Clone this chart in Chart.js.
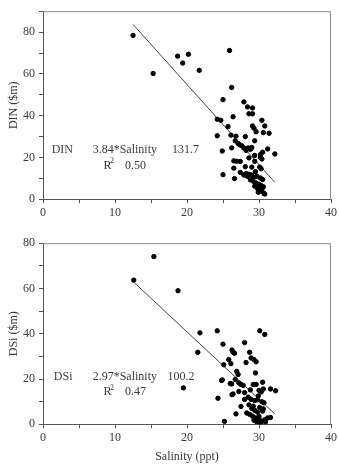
<!DOCTYPE html>
<html>
<head>
<meta charset="utf-8">
<script src="https://cdn.jsdelivr.net/npm/chart.js@4.4.0/dist/chart.umd.min.js"></script>
<style>
  body { margin: 0; background: #fff; }
  .box { position: absolute; left: 0; width: 339px; height: 232px; }
</style>
</head>
<body>
<div class="box" style="top:0"><canvas id="dinChart" width="339" height="232"></canvas></div>
<div class="box" style="top:232px"><canvas id="dsiChart" width="339" height="232"></canvas></div>
<script>
// salinity (ppt), DIN pairs
const dinPoints = [
  [12.5,78.4],[15.3,60.2],[18.7,68.5],[19.4,65.2],[20.2,69.4],[21.7,61.7],[25.9,71.2],
  [25.0,47.7],[26.2,53.5],[27.9,46.6],[28.4,44.2],[29.1,43.7],[28.6,40.9],[29.1,40.9],
  [24.2,38.3],[24.7,37.8],[26.4,39.5],[30.4,37.8],[25.7,34.8],[29.1,35.1],[29.3,34.0],
  [30.8,35.1],[29.6,32.3],[30.6,31.9],[31.4,31.6],[24.2,30.4],[26.1,30.7],[26.8,30.2],
  [28.1,30.0],[26.7,28.0],[29.4,28.0],[27.1,26.7],[27.3,26.1],[27.6,25.6],[27.9,24.6],
  [28.2,23.4],[24.9,23.1],[26.2,24.6],[28.5,24.6],[28.8,23.9],[29.0,24.8],[31.2,24.1],
  [32.2,21.7],[30.5,22.5],[30.2,21.4],[29.4,21.0],[28.6,19.8],[26.5,18.4],[26.9,18.2],
  [27.4,18.1],[29.4,18.2],[30.2,20.0],[30.4,19.3],[29.0,15.4],[30.1,15.4],[30.3,14.6],
  [28.1,15.6],[26.5,14.9],[25.0,11.8],[26.6,9.9],[27.4,12.9],[28.2,12.3],[28.6,12.0],
  [29.0,11.6],[29.3,10.6],[29.7,11.0],[30.2,10.2],[30.5,9.5],[28.8,9.3],[29.2,8.6],
  [29.6,7.8],[30.0,7.2],[30.3,6.6],[30.6,6.0],[29.4,6.3],[29.8,5.2],[30.1,4.5],[30.4,3.8],
  [30.7,2.8],[30.8,2.5],[29.9,3.4],[30.5,5.5],[28.4,11.0],[27.9,11.6],[29.5,13.2]
];
// salinity (ppt), DSi pairs
const dsiPoints = [
  [12.6,63.7],[15.4,74.1],[18.75,59.0],[19.5,16.1],[21.8,40.4],[21.5,31.8],[24.2,41.3],
  [25.0,35.4],[24.3,11.5],[24.9,19.6],[25.1,26.3],[25.2,1.3],[26.25,32.8],[26.4,31.8],
  [26.6,31.4],[25.8,28.6],[26.1,26.8],[26.25,13.1],[26.0,18.0],[26.8,4.6],[26.9,23.4],
  [27.1,22.0],[26.7,19.8],[27.2,18.3],[27.5,17.6],[27.8,17.2],[28.0,36.1],[28.2,27.3],
  [28.7,31.8],[28.9,29.3],[29.3,28.6],[29.6,27.6],[29.5,22.7],[29.2,17.6],[29.6,17.6],
  [30.1,41.3],[30.8,39.7],[30.5,18.6],[30.6,15.6],[31.6,15.6],[32.3,14.8],[30.0,15.0],
  [30.3,14.3],[28.0,14.0],[28.5,12.0],[28.9,11.0],[29.4,10.5],[29.8,10.8],[30.4,10.0],
  [30.7,9.5],[27.5,7.9],[28.3,5.0],[28.7,4.4],[29.1,3.6],[29.5,2.8],[30.0,2.2],[30.4,1.4],
  [30.8,2.0],[31.2,2.8],[31.6,3.0],[29.7,1.0],[30.2,0.6],[29.0,7.0],[29.4,6.2],[29.8,5.4],
  [30.5,5.8],[28.6,8.6],[29.2,8.0],[30.1,7.4],[30.6,6.8],[29.9,12.5],[28.8,15.2],[30.0,3.5],
  [29.3,1.8],[30.9,1.0],[24.8,19.4],[26.4,13.4],[27.2,14.5],[28.0,11.0],[26.2,17.8]
];
// regression lines (endpoints of the fitted range)
const dinFit = [[12.5,83.7],[32.2,8.1]];
const dsiFit = [[12.6,62.8],[32.2,4.6]];

const xTicks = [0, 10, 20, 30, 40];

const FONT = "'Liberation Serif', 'Times New Roman', serif";
const INK = '#3a3a3a';

const toXY = arr => arr.map(p => ({ x: p[0], y: p[1] }));

// full box round the plot area
const frame = {
  id: 'frame',
  afterDraw(chart) {
    const a = chart.chartArea, c = chart.ctx;
    c.save();
    c.strokeStyle = '#8a8a8a';
    c.lineWidth = 1;
    c.beginPath();
    c.moveTo(a.left, a.top + 0.5);
    c.lineTo(a.right - 0.5, a.top + 0.5);
    c.lineTo(a.right - 0.5, a.bottom);
    c.stroke();
    c.restore();
  }
};

// equation text, placed in data units
const equation = {
  id: 'equation',
  afterDraw(chart, args, opts) {
    const c = chart.ctx, xs = chart.scales.x, ys = chart.scales.y;
    c.save();
    c.fillStyle = INK;
    c.textBaseline = 'middle';
    c.font = '12px ' + FONT;
    opts.items.forEach(it => {
      c.font = (it.size || 12) + 'px ' + FONT;
      c.fillText(it.text, xs.getPixelForValue(it.x), ys.getPixelForValue(it.y));
    });
    c.restore();
  }
};

function makeChart(id, points, fit, yMax, yTitle, showXTitle, padTop, xHeight, items) {
  return new Chart(document.getElementById(id), {
    type: 'scatter',
    data: {
      datasets: [{
        data: toXY(points),
        backgroundColor: '#000',
        borderColor: '#000',
        pointRadius: 2.2,
        pointHoverRadius: 2.2
      }, {
        type: 'line',
        data: toXY(fit),
        borderColor: '#444',
        borderWidth: 1,
        pointRadius: 0,
        fill: false
      }]
    },
    options: {
      responsive: false,
      animation: false,
      events: [],
      layout: { padding: { left: 0, right: 7, top: padTop, bottom: 0 } },
      plugins: {
        legend: { display: false },
        tooltip: { enabled: false },
        equation: { items: items }
      },
      scales: {
        x: {
          type: 'linear',
          min: 0, max: 40,
          afterFit: s => { s.height = xHeight; },
          afterBuildTicks: s => { s.ticks = [0,5,10,15,20,25,30,35,40].map(v => ({ value: v })); },
          border: { color: '#555', width: 1 },
          grid: { drawOnChartArea: false, tickLength: 4, color: '#555' },
          ticks: {
            color: INK, padding: 2,
            font: { family: FONT, size: 12 },
            maxRotation: 0,
            callback: v => xTicks.includes(v) ? String(v) : ''
          },
          title: {
            display: showXTitle, text: 'Salinity (ppt)', color: INK,
            font: { family: FONT, size: 12 }, padding: { top: 0, bottom: 0 }
          }
        },
        y: {
          min: 0, max: yMax,
          afterFit: s => { s.width = 43; },
          afterBuildTicks: s => {
            const t = [];
            for (let v = 0; v <= yMax; v += 10) t.push({ value: v });
            s.ticks = t;
          },
          border: { color: '#555', width: 1 },
          grid: { drawOnChartArea: false, tickLength: 4, color: '#555' },
          ticks: {
            color: INK, padding: 4,
            font: { family: FONT, size: 12 },
            callback: v => v % 20 === 0 ? String(v) : ''
          },
          title: {
            display: true, text: yTitle, color: INK,
            font: { family: FONT, size: 12 }, padding: { top: 7, bottom: 7 }
          }
        }
      }
    },
    plugins: [frame, equation]
  });
}

makeChart('dinChart', dinPoints, dinFit, 90, 'DIN ($m)', false, 9, 32.7, [
  { text: 'DIN', x: 1.2, y: 23.8 },
  { text: '3.84*Salinity', x: 6.9, y: 23.8 },
  { text: '131.7', x: 17.9, y: 23.8 },
  { text: 'R', x: 8.4, y: 16.2 },
  { text: '2', x: 9.3, y: 18.2, size: 8 },
  { text: '0.50', x: 11.4, y: 16.2 }
]);

makeChart('dsiChart', dsiPoints, dsiFit, 80, 'DSi ($m)', true, 3, 39.7, [
  { text: 'DSi', x: 1.5, y: 20.8 },
  { text: '2.97*Salinity', x: 6.9, y: 20.8 },
  { text: '100.2', x: 17.3, y: 20.8 },
  { text: 'R', x: 8.4, y: 14.5 },
  { text: '2', x: 9.3, y: 16.2, size: 8 },
  { text: '0.47', x: 11.4, y: 14.5 }
]);
</script>
</body>
</html>
